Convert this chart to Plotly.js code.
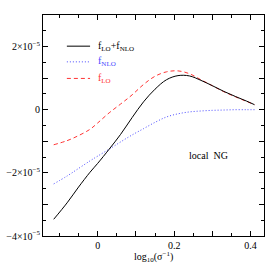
<!DOCTYPE html>
<html>
<head>
<meta charset="utf-8">
<script src="https://cdn.plot.ly/plotly-3.0.1.min.js"></script>
<style>html,body{margin:0;padding:0;background:#fff;}#chart{width:279px;height:279px;}</style>
</head>
<body>
<div id="chart"></div>
<script>
var xVals = [-0.115, -0.08, -0.05, -0.02, 0, 0.03, 0.06, 0.09, 0.12, 0.15, 0.18, 0.21, 0.24, 0.27, 0.30, 0.33, 0.36, 0.39, 0.41];
var fTotal = [-3.47, -2.95, -2.45, -1.98, -1.70, -1.25, -0.78, -0.25, 0.25, 0.65, 0.95, 1.08, 1.07, 0.93, 0.76, 0.58, 0.42, 0.27, 0.16];
var fNLO = [-2.35, -2.10, -1.86, -1.62, -1.47, -1.25, -1.02, -0.80, -0.60, -0.40, -0.23, -0.13, -0.07, -0.04, -0.02, -0.01, 0, 0, 0];
var fLO = [-1.11, -0.98, -0.82, -0.62, -0.42, -0.10, 0.18, 0.47, 0.80, 1.06, 1.20, 1.23, 1.14, 0.95, 0.76, 0.57, 0.41, 0.26, 0.16];
var scale = 1e-5;
var yTickVals = [-4, -3, -2, -1, 0, 1, 2];
var yTickText = ["\u22124\u00d710<sup>\u22125</sup>", "", "\u22122\u00d710<sup>\u22125</sup>", "", "0", "", "2\u00d710<sup>\u22125</sup>"];
var xTickVals = [0, 0.1, 0.2, 0.3, 0.4];
var xTickText = ["0", "", "0.2", "", "0.4"];
var legendNames = ["f<sub>LO</sub>+f<sub>NLO</sub>", "f<sub>NLO</sub>", "f<sub>LO</sub>"];
var xTitle = "log<sub>10</sub>(\u03c3<sup>\u22121</sup>)";

function sc(a){ return a.map(function(v){ return v*scale; }); }

var FONT = "Liberation Serif, DejaVu Serif, serif";
var RED = "#ff3333", BLUE = "#4a4aff";
var traces = [
  {x: xVals, y: sc(fLO), mode: "lines", line: {color: RED, width: 1, dash: "4px,3px", shape: "spline"}, hoverinfo: "skip"},
  {x: xVals, y: sc(fNLO), mode: "lines", line: {color: BLUE, width: 1, dash: "1px,2px", shape: "spline"}, hoverinfo: "skip"},
  {x: xVals, y: sc(fTotal), mode: "lines", line: {color: "#000000", width: 1, shape: "spline"}, hoverinfo: "skip"}
];

var legColors = ["#000000", BLUE, RED];
var legDash = ["solid", "1px,2px", "4px,3px"];
var legY = [0.859, 0.788, 0.713];
var shapes = [], annotations = [];
for (var i = 0; i < 3; i++) {
  shapes.push({type: "line", xref: "paper", yref: "paper", x0: 0.108, x1: 0.213, y0: legY[i], y1: legY[i],
    line: {color: legColors[i], width: 1, dash: legDash[i]}});
  annotations.push({xref: "paper", yref: "paper", x: 0.24, y: legY[i], xanchor: "left", yanchor: "middle",
    text: legendNames[i], showarrow: false, font: {family: FONT, size: 10, color: legColors[i]}});
}
annotations.push({xref: "x", yref: "y", x: 0.29, y: -1.45e-5, text: "local  NG", showarrow: false,
  xanchor: "center", yanchor: "middle", font: {family: FONT, size: 10, color: "#000"}});
annotations.push({xref: "paper", yref: "paper", x: 0.5, y: -0.095, text: xTitle, showarrow: false,
  xanchor: "center", yanchor: "middle", font: {family: FONT, size: 10, color: "#000"}});

var layout = {
  width: 279, height: 279,
  margin: {l: 43, r: 15, t: 15, b: 43},
  paper_bgcolor: "#fff", plot_bgcolor: "#fff",
  showlegend: false,
  font: {family: FONT, size: 10, color: "#000"},
  xaxis: {
    range: [-0.143, 0.435], showgrid: false, zeroline: false,
    showline: true, linecolor: "#000", linewidth: 1, mirror: "ticks",
    ticks: "inside", ticklen: 5, tickcolor: "#000", tickwidth: 1,
    tickmode: "array", tickvals: xTickVals, ticktext: xTickText,
    minor: {dtick: 0.05, tick0: 0, ticks: "inside", ticklen: 3, tickcolor: "#000", showgrid: false},
    tickfont: {family: FONT, size: 10}
  },
  yaxis: {
    range: [-4e-5, 3e-5], showgrid: false, zeroline: false,
    showline: true, linecolor: "#000", linewidth: 1, mirror: "ticks",
    ticks: "inside", ticklen: 5, tickcolor: "#000", tickwidth: 1,
    tickmode: "array", tickvals: sc(yTickVals), ticktext: yTickText,
    minor: {dtick: 0.5e-5, tick0: 0, ticks: "inside", ticklen: 3, tickcolor: "#000", showgrid: false},
    tickfont: {family: FONT, size: 10}
  },
  shapes: shapes,
  annotations: annotations
};
Plotly.newPlot("chart", traces, layout, {staticPlot: true, displayModeBar: false});
</script>
</body>
</html>
